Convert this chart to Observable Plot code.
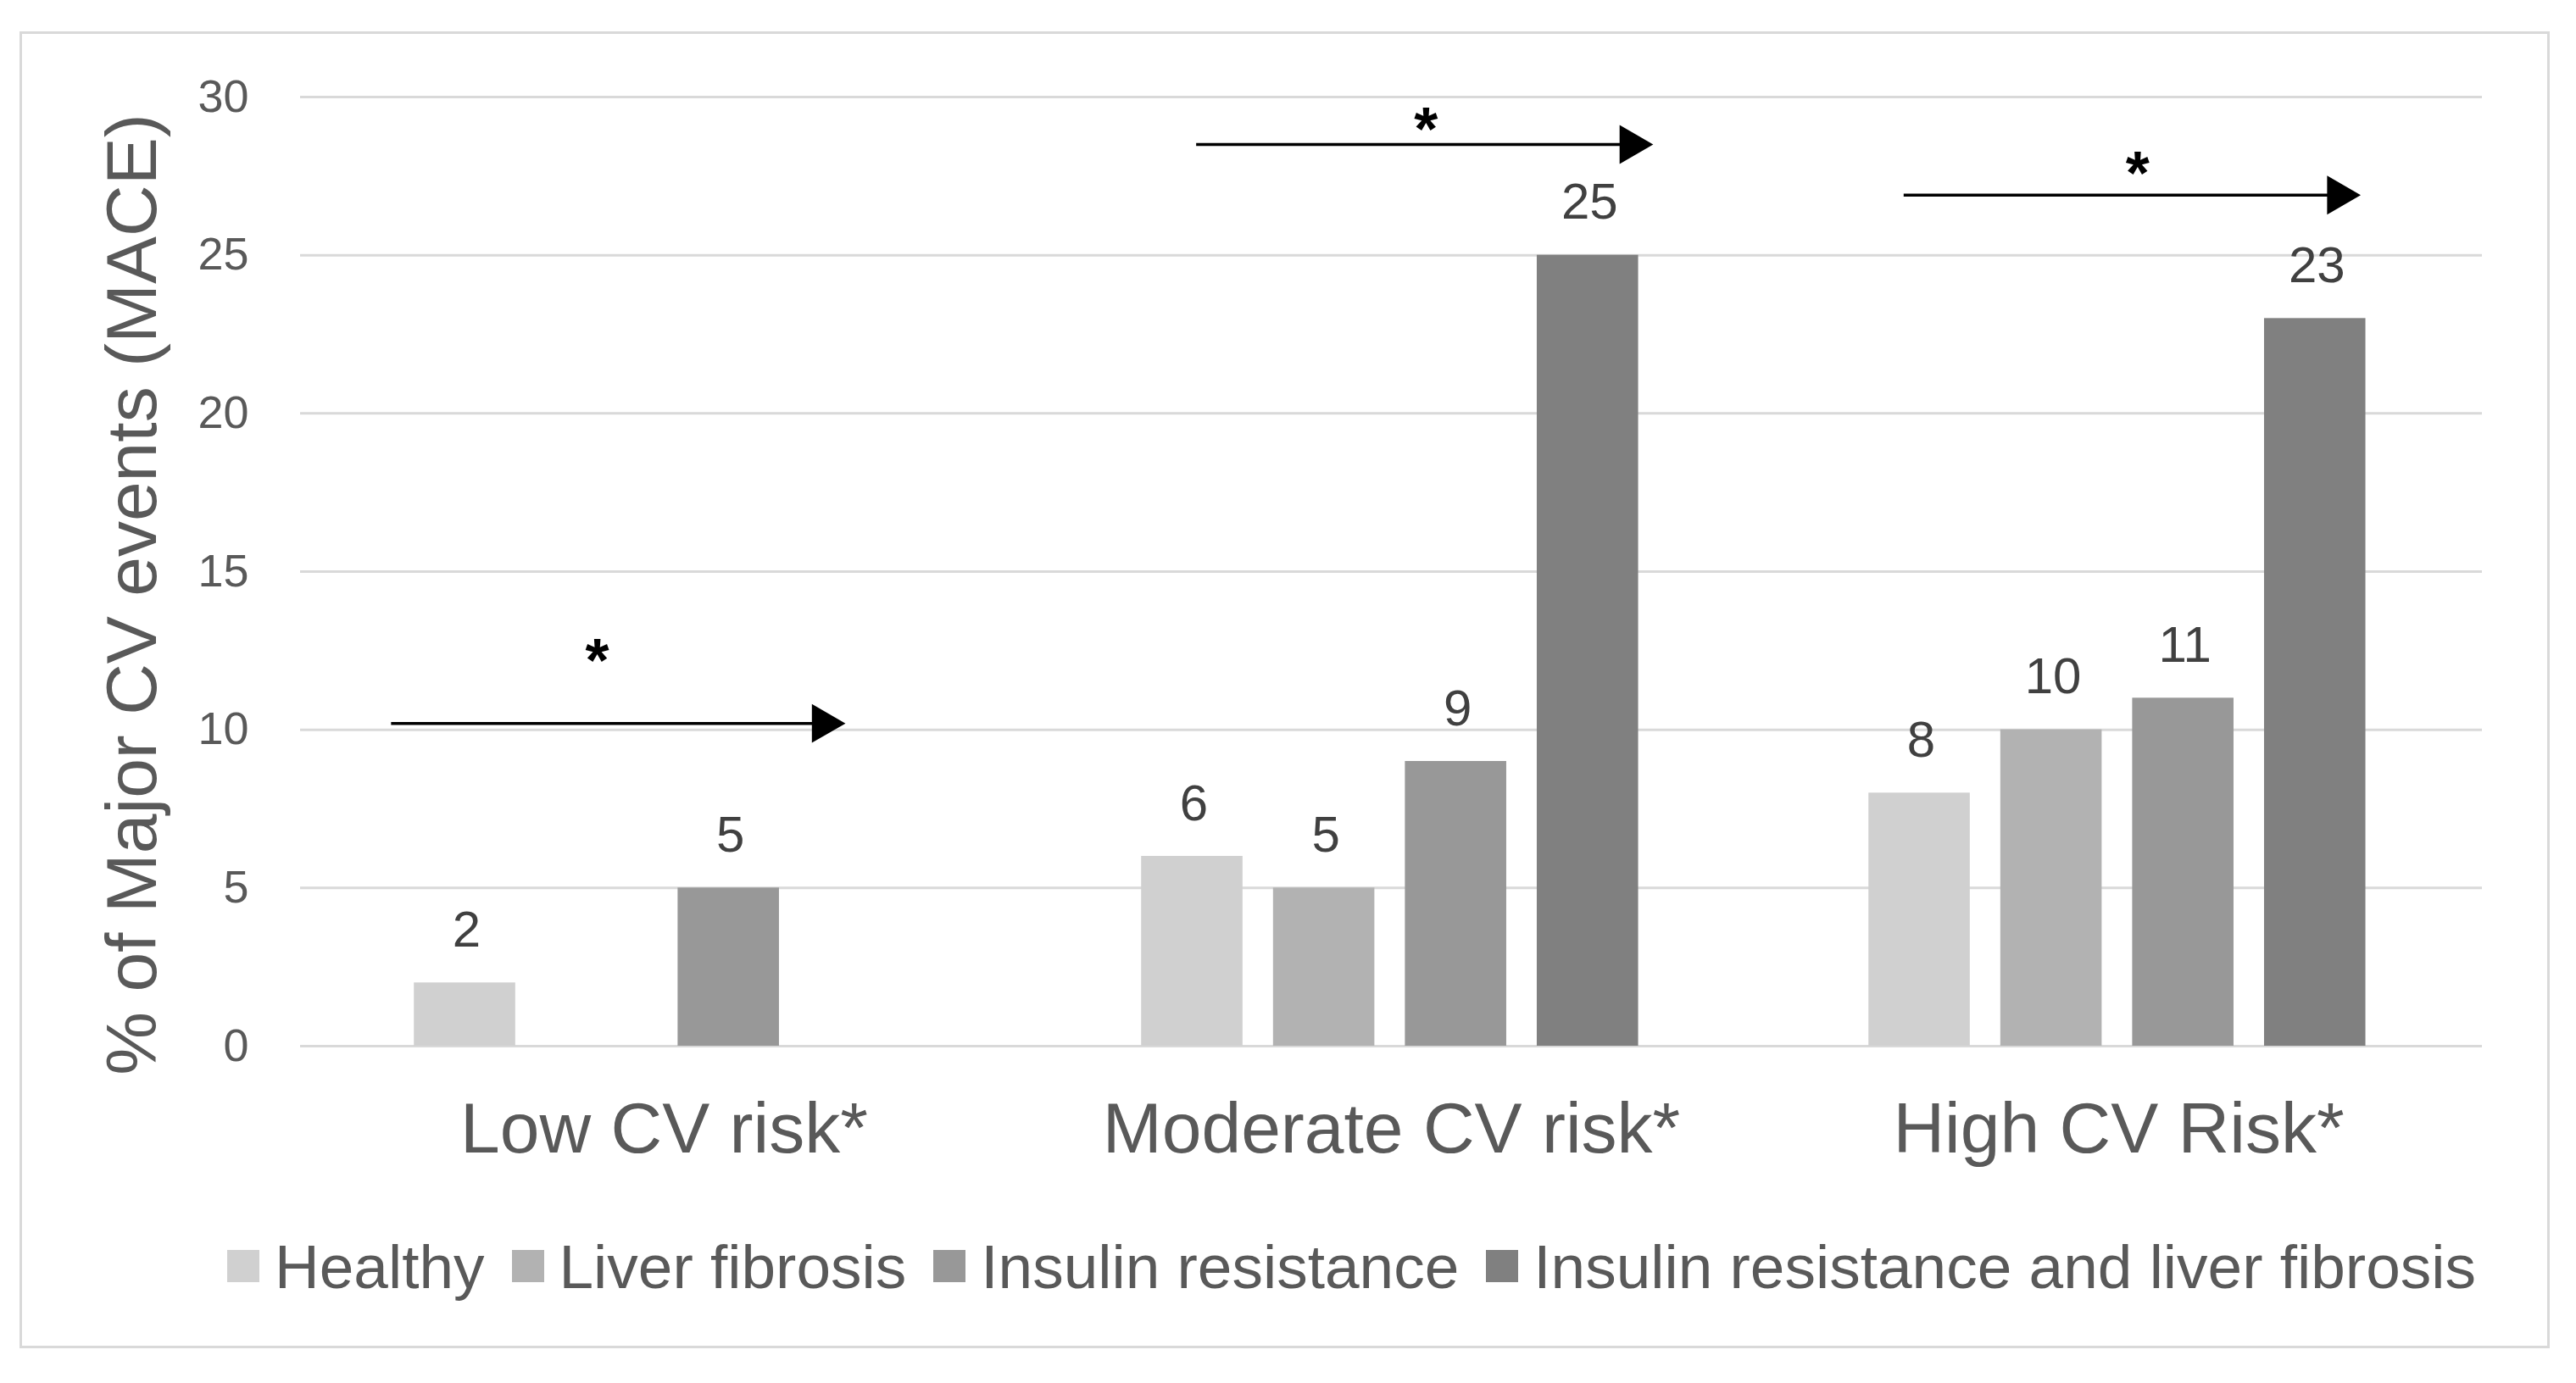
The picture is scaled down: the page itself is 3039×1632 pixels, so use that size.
<!DOCTYPE html>
<html>
<head>
<meta charset="utf-8">
<script src="https://cdn.jsdelivr.net/npm/d3@7"></script>
<script src="https://cdn.jsdelivr.net/npm/@observablehq/plot@0.6"></script>
<style>
  html, body { margin: 0; padding: 0; background: #fff; }
  #chart { position: relative; width: 3039px; height: 1632px; font-family: "Liberation Sans", Arial, sans-serif; }
  #frame { position: absolute; left: 23px; top: 37px; width: 2985px; height: 1554px; border: 3px solid #d9d9d9; box-sizing: border-box; }
  #plot { position: absolute; left: 0; top: 0; }
  #legend { position: absolute; left: 268px; top: 1452px; height: 84px; display: flex; align-items: center; gap: 32px; font-size: 73px; color: #595959; white-space: nowrap; }
  .item { display: flex; align-items: center; }
  .sw { width: 38px; height: 38px; margin-right: 18px; }
</style>
</head>
<body>
<div id="chart">
  <div id="frame"></div>
  <div id="plot"></div>
  <div id="legend"></div>
</div>
<script>
// ---- data ----
const groups = ["Low CV risk*", "Moderate CV risk*", "High CV Risk*"];
const series = ["Healthy", "Liver fibrosis", "Insulin resistance", "Insulin resistance and liver fibrosis"];
const healthy = [2, 6, 8];
const liverFibrosis = [null, 5, 10];
const insulinResistance = [5, 9, 11];
const irAndLiverFibrosis = [null, 25, 23];
const colors = ["#d0d0d0", "#b2b2b2", "#989898", "#808080"];
const yTicks = [0, 5, 10, 15, 20, 25, 30];
const yTitle = "% of Major CV events (MACE)";
// significance arrows (x in bar-slot units within each group, y in %)
const arrowStart = [-0.07, 0.52, 0.37];
const arrowEnd = [3.37, 3.98, 3.83];
const arrowY = [10.2, 28.5, 26.9];
const starX = [1.49, 2.26, 2.14];
const starY = [12.6, 29.4, 28.0];

// ---- tables ----
const valuesBySeries = [healthy, liverFibrosis, insulinResistance, irAndLiverFibrosis];
const rows = [];
groups.forEach((g, gi) => series.forEach((s, si) => {
  const v = valuesBySeries[si][gi];
  if (v != null) rows.push({group: g, series: s, slot: si, value: v});
}));
const arrows = groups.map((g, i) => ({group: g, x1: arrowStart[i], x2: arrowEnd[i], y: arrowY[i], sx: starX[i], sy: starY[i]}));

const chart = Plot.plot({
  width: 3039,
  height: 1420,
  marginTop: 114,
  marginBottom: 186,
  marginLeft: 354,
  marginRight: 111,
  fx: {domain: groups, padding: 0},
  x: {domain: [-0.76, 4.755], axis: null},
  y: {domain: [0, 30]},
  color: {domain: series, range: colors},
  style: {fontFamily: "'Liberation Sans', Arial, sans-serif", background: "transparent", overflow: "visible"},
  marks: [
    Plot.ruleY(yTicks, {stroke: "#d9d9d9", strokeWidth: 3}),
    Plot.rectY(rows, {fx: "group", x1: "slot", x2: d => d.slot + 1, y: "value", fill: "series", insetLeft: 16, insetRight: 20}),
    Plot.text(rows, {fx: "group", x: d => d.slot + 0.5, y: "value", text: d => String(d.value), lineAnchor: "bottom", dy: -43, fontSize: 60, fill: "#404040"}),
    Plot.ruleY(arrows, {fx: "group", x1: "x1", x2: "x2", y: "y", stroke: "#000", strokeWidth: 3.5, insetRight: 20}),
    Plot.dot(arrows, {fx: "group", x: "x2", y: "y", symbol: "triangle", rotate: 90, r: 17, fill: "#000", stroke: "none", dx: -26}),
    Plot.text(arrows, {fx: "group", x: "sx", y: "sy", text: () => "*", fontSize: 72, fontWeight: "bold", fill: "#000", lineAnchor: "middle", dy: 17}),
    Plot.axisY({ticks: yTicks, tickSize: 0, tickPadding: 61, fontSize: 54, color: "#595959", label: null}),
    Plot.axisFx({anchor: "bottom", tickSize: 0, tickPadding: 66, fontSize: 84, color: "#595959", label: null}),
    Plot.text([{group: groups[0], label: yTitle}], {fx: "group", text: "label", frameAnchor: "left", rotate: -90, lineAnchor: "top", textAnchor: "middle", dx: -230, dy: 27, fontSize: 84, fill: "#595959"})
  ]
});
document.getElementById("plot").appendChild(chart);

// ---- legend ----
const legend = document.getElementById("legend");
series.forEach((s, i) => {
  const item = document.createElement("div");
  item.className = "item";
  const sw = document.createElement("div");
  sw.className = "sw";
  sw.style.background = colors[i];
  const label = document.createElement("span");
  label.textContent = s;
  item.appendChild(sw);
  item.appendChild(label);
  legend.appendChild(item);
});
</script>
</body>
</html>
